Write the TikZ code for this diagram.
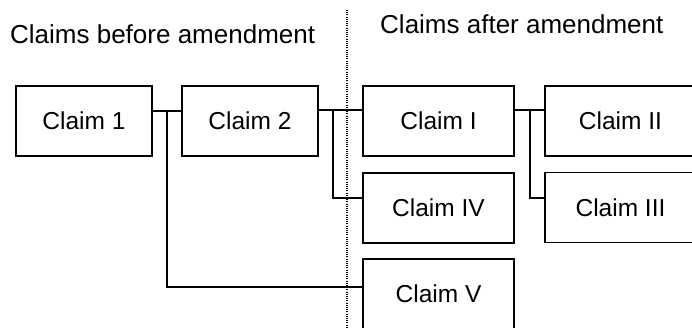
\documentclass[tikz,border=0pt]{standalone}
\usepackage{fontspec}
\setmainfont{Liberation Sans}
\begin{document}
\begin{tikzpicture}[x=1pt,y=-1pt,
  claimbox/.style={draw=black,line width=1.6pt,rectangle,inner sep=0pt,minimum height=70pt,font=\fontsize{24.5}{29}\selectfont},
  narrowbox/.style={claimbox,minimum width=136pt},
  widebox/.style={claimbox,minimum width=151pt},
  link/.style={draw=black,line width=1.6pt},
  divider/.style={draw=black,line width=1.2pt,dash pattern=on 1pt off 1.2pt},
  titletext/.style={font=\fontsize{26}{31}\selectfont,anchor=base west,inner sep=0pt}]
\useasboundingbox (0,0) rectangle (692,327);
\clip (0,0) rectangle (692,327);
% titles
\node[titletext] (tbefore) at (10,43) {Claims before amendment};
\node[titletext] (tafter) at (380,33.5) {Claims after amendment};
% divider
\coordinate (dtop) at (347,10);
\coordinate (dbot) at (347,330);
\draw[divider] (dtop) -- (dbot);
% boxes
\node[narrowbox] (c1) at (84,121) {Claim 1};
\node[narrowbox] (c2) at (250,121) {Claim 2};
\node[widebox] (cI) at (438.5,121) {Claim I};
\node[widebox] (cIV) at (438.5,208) {Claim IV};
\node[widebox] (cV) at (438.5,294) {Claim V};
\node[widebox] (cII) at (620.5,121) {Claim II};
\node[widebox] (cIII) at (620.5,207.5) {Claim III};
% junctions
\coordinate (j1) at (167,111);
\coordinate (j2) at (333,110);
\coordinate (j3) at (530,110);
% connectors
\draw[link] ([yshift=10pt]c1.east) -- ([yshift=10pt]c2.west);
\draw[link] (j1) |- ([yshift=7pt]cV.west);
\draw[link] ([yshift=11pt]c2.east) -- ([yshift=11pt]cI.west);
\draw[link] (j2) |- ([yshift=10pt]cIV.west);
\draw[link] ([yshift=11pt]cI.east) -- ([yshift=11pt]cII.west);
\draw[link] (j3) |- ([yshift=9.5pt]cIII.west);
\end{tikzpicture}
\end{document}
